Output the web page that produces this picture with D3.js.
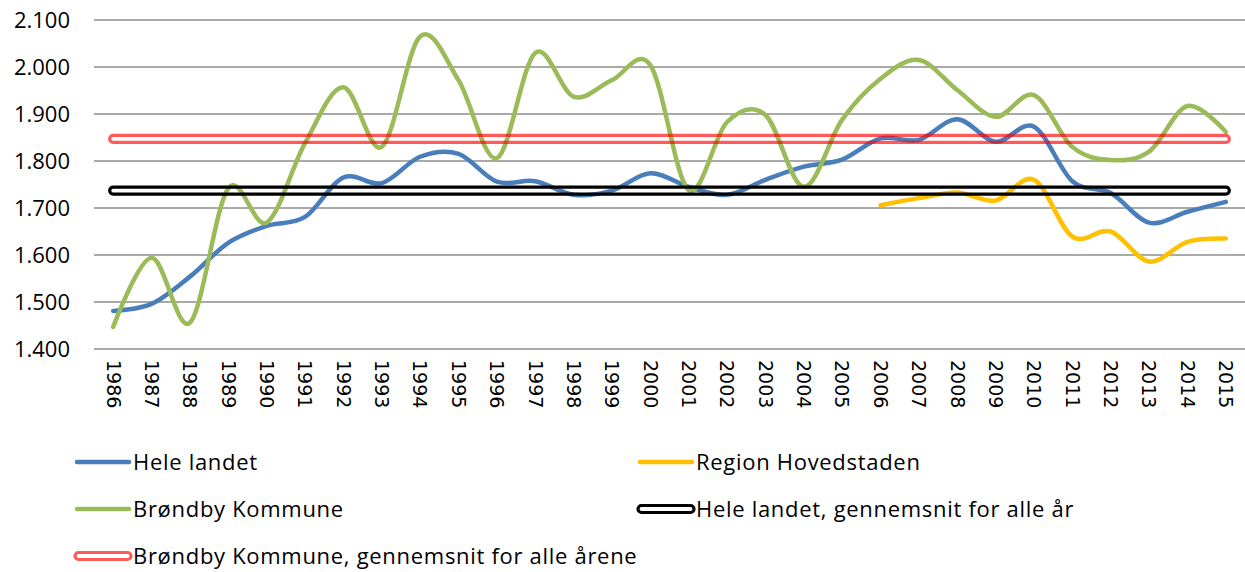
<!DOCTYPE html>
<html>
<head>
<meta charset="utf-8">
<script src="https://cdn.jsdelivr.net/npm/d3@7"></script>
<style>
  body { margin: 0; background: #fff; }
  svg text { fill: #000; }
</style>
</head>
<body>
<script>
// data
const years = d3.range(1986, 2016).map(String);
const heleLandet = [1.481, 1.496, 1.554, 1.626, 1.662, 1.681, 1.765, 1.753, 1.809, 1.815,
  1.756, 1.757, 1.728, 1.737, 1.774, 1.745, 1.728, 1.760, 1.788, 1.803,
  1.848, 1.845, 1.889, 1.841, 1.873, 1.757, 1.732, 1.669, 1.692, 1.713];
const regionYears = ["2006", "2007", "2008", "2009", "2010", "2011", "2012", "2013", "2014", "2015"];
const regionHovedstaden = [1.706, 1.721, 1.733, 1.716, 1.760, 1.639, 1.650, 1.586, 1.628, 1.635];
const brondby = [1.447, 1.594, 1.456, 1.742, 1.669, 1.838, 1.957, 1.830, 2.065, 1.972,
  1.806, 2.030, 1.937, 1.972, 2.004, 1.738, 1.883, 1.898, 1.745, 1.888,
  1.975, 2.015, 1.951, 1.894, 1.940, 1.830, 1.802, 1.820, 1.917, 1.862];
const heleLandetAvg = 1.737;
const brondbyAvg = 1.847;
const yTicks = [1.4, 1.5, 1.6, 1.7, 1.8, 1.9, 2.0, 2.1];

const width = 1245;
const height = 572;
const margin = {top: 20, right: 0, bottom: 223, left: 94};
const font = "'Open Sans', Lato, sans-serif";

const svg = d3.select("body").append("svg")
  .attr("width", width)
  .attr("height", height);

const x = d3.scaleBand()
  .domain(years)
  .range([margin.left, width - margin.right]);

const y = d3.scaleLinear()
  .domain([1.4, 2.1])
  .range([height - margin.bottom, margin.top]);

const fmt = d3.format(".3f");

// gridlines
svg.append("g")
  .selectAll("line")
  .data(yTicks)
  .enter().append("line")
    .attr("x1", margin.left)
    .attr("x2", width - margin.right)
    .attr("y1", d => y(d))
    .attr("y2", d => y(d))
    .attr("stroke", "#8c8c8c")
    .attr("stroke-width", 1.6);

// y labels
svg.append("g")
  .selectAll("text")
  .data(yTicks)
  .enter().append("text")
    .attr("x", 70)
    .attr("y", d => y(d))
    .attr("dy", "0.36em")
    .attr("text-anchor", "end")
    .style("font-family", font)
    .style("font-size", "22px")
    .text(d => fmt(d));

// x labels, rotated
svg.append("g")
  .selectAll("text")
  .data(years)
  .enter().append("text")
    .attr("transform", d => `translate(${x(d) + x.bandwidth() / 2},${y(1.4) + 11}) rotate(90)`)
    .attr("dy", "0.35em")
    .style("font-family", "'DejaVu Sans', sans-serif")
    .style("font-size", "19px")
    .text(d => d);

const cx = d => x(d) + x.bandwidth() / 2;

const line = d3.line()
  .curve(d3.curveCatmullRom.alpha(0))
  .x(d => cx(d[0]))
  .y(d => y(d[1]));

function drawSeries(cats, values, color) {
  svg.append("path")
    .datum(d3.zip(cats, values))
    .attr("d", line)
    .attr("fill", "none")
    .attr("stroke", color)
    .attr("stroke-width", 4.5)
    .attr("stroke-linecap", "round")
    .attr("stroke-linejoin", "round");
}

// double line for the averages, ends rounded
function drawAverage(value, color) {
  const x0 = cx(years[0]);
  const x1 = cx(years[years.length - 1]);
  svg.append("rect")
    .attr("x", x0 - 3.5)
    .attr("y", y(value) - 3.5)
    .attr("width", x1 - x0 + 7)
    .attr("height", 7)
    .attr("rx", 3.5)
    .attr("fill", "none")
    .attr("stroke", color)
    .attr("stroke-width", 3.2);
}

drawSeries(years, heleLandet, "#4a7ebb");
drawSeries(regionYears, regionHovedstaden, "#ffc000");
drawSeries(years, brondby, "#9bbb59");
drawAverage(heleLandetAvg, "#000");
drawAverage(brondbyAvg, "rgba(255,0,0,0.65)");

// legend
const legendItems = [
  {name: "Hele landet", color: "#4a7ebb", type: "line", lx: 75, ly: 462},
  {name: "Region Hovedstaden", color: "#ffc000", type: "line", lx: 638, ly: 462},
  {name: "Brøndby Kommune", color: "#9bbb59", type: "line", lx: 75, ly: 509},
  {name: "Hele landet, gennemsnit for alle år", color: "#000", type: "avg", lx: 638, ly: 509},
  {name: "Brøndby Kommune, gennemsnit for alle årene", color: "rgba(255,0,0,0.65)", type: "avg", lx: 75, ly: 556}
];

const legend = svg.append("g").attr("class", "legend");

legendItems.forEach(d => {
  if (d.type === "line") {
    legend.append("line")
      .attr("x1", d.lx + 2).attr("x2", d.lx + 54)
      .attr("y1", d.ly).attr("y2", d.ly)
      .attr("stroke", d.color)
      .attr("stroke-width", 4.5)
      .attr("stroke-linecap", "round");
  } else {
    legend.append("rect")
      .attr("x", d.lx).attr("y", d.ly - 3.5)
      .attr("width", 56).attr("height", 7)
      .attr("rx", 3.5)
      .attr("fill", "none")
      .attr("stroke", d.color)
      .attr("stroke-width", 3.2);
  }
  legend.append("text")
    .attr("x", d.lx + 58)
    .attr("y", d.ly)
    .attr("dy", "0.36em")
    .style("font-family", font)
    .style("font-size", "22px")
    .style("letter-spacing", "0.7px")
    .text(d.name);
});
</script>
</body>
</html>
